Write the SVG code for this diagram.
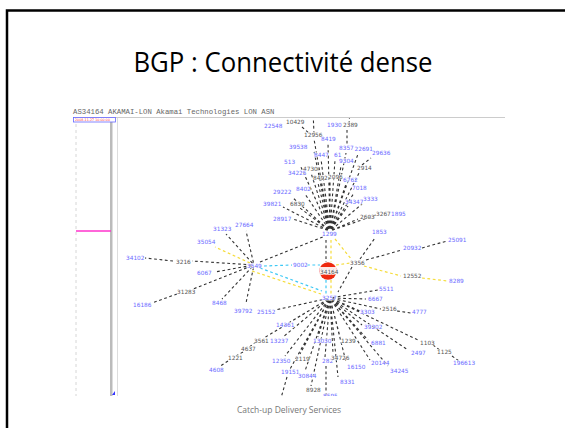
<svg xmlns="http://www.w3.org/2000/svg" width="565" height="428" viewBox="0 0 565 428">
<style>
.e{stroke:#333;stroke-width:1.1;stroke-dasharray:2.8 2.6;fill:none}
.f{stroke-dashoffset:3}
.y{stroke:#f5dc3a;stroke-width:1.2;stroke-dasharray:2.8 2.6;fill:none}
.c{stroke:#3cc8f5;stroke-width:1.2;stroke-dasharray:2.8 2.6;fill:none}
text.b,text.g{font-family:"DejaVu Sans",sans-serif;font-size:5.8px;stroke:#fff;stroke-width:1.2px;stroke-opacity:0.85;paint-order:stroke}
text.b{fill:#6a6aff}
text.g{fill:#555}
</style>
<defs>
<clipPath id="gc"><rect x="118" y="118" width="447" height="278"/></clipPath>
</defs>
<rect width="565" height="428" fill="#fff"/>
<path d="M7 430V10.5H570" fill="none" stroke="#000" stroke-width="2.5"/>
<text x="283" y="72" text-anchor="middle" font-family="'Open Sans',sans-serif" font-size="27" fill="#000" textLength="299" lengthAdjust="spacingAndGlyphs">BGP : Connectivité dense</text>
<text x="289" y="413" text-anchor="middle" font-family="'Open Sans',sans-serif" font-size="8.5" fill="#777">Catch-up Delivery Services</text>

<g id="screenshot-frame">
<text x="73" y="114" font-family="'Liberation Mono',monospace" font-size="7.3" fill="#666">AS34164 AKAMAI-LON Akamai Technologies LON ASN</text>
<line x1="73" y1="117.5" x2="505" y2="117.5" stroke="#ccc" stroke-width="1"/>
<line x1="76" y1="124" x2="76" y2="396" stroke="#ccc" stroke-width="0.8" stroke-dasharray="3 3"/>
<rect x="110" y="121" width="2.5" height="275" fill="#bbb"/>
<line x1="117.5" y1="118" x2="117.5" y2="396" stroke="#ddd" stroke-width="1"/>
<rect x="73.5" y="117.5" width="42" height="4.5" fill="#fff" stroke="#66f" stroke-width="0.8"/>
<text x="75" y="121.2" font-family="'DejaVu Sans',sans-serif" font-size="3.3" fill="#f44">2008-11-27 10:00:00</text>
<line x1="76" y1="231" x2="111" y2="231" stroke="#ff33cc" stroke-width="1.3"/>
<path d="M112 395L115 391V395Z" fill="#33f"/>
</g>

<g id="connectors" clip-path="url(#gc)">
<!-- hub 1299 fan -->
<path class="e f" d="M330 231L293 219M330 231L300 208M330 231L283 207M330 231L292 197M330 231L305 194M330 231L306 178M330 231L300 165M330 231L311 173M330 231L318 183M330 231L314 151M330 231L321 159M330 231L330 182M330 231L335 160M330 231L328 143M330 231L314 139M330 231L341 166M330 231L346 153M330 231L358 154M330 231L346 184M330 231L359 173M330 231L354 193M330 231L348 206M330 231L362 204M330 231L358 219M330 231L376 215"/>
<path class="e" d="M302 127L310 134M314 134L313 110M349 124L350 110M347 130L347 146M362 165L371 158"/>
<!-- hub 3257 fan -->
<path class="e f" d="M330 298L378 290M330 298L366 299M330 298L381 309M330 298L360 311M330 298L275 310M330 298L290 322M330 298L264 338M330 298L283 337M330 298L285 356M330 298L290 369M330 298L300 354M330 298L305 371M330 298L318 337M330 298L325 357M330 298L311 386M330 298L333 353M330 298L340 337M330 298L346 362M330 298L338 377M330 298L362 325M330 298L368 340M330 298L370 360M330 298L388 366M330 298L408 350M330 298L418 340"/>
<path class="e" d="M397 311L411 313M256 342L248 348M243 352L236 356M228 361L219 367M433 345L441 351M452 356L459 361M287 377L281 398M326 366L326 398"/>
<!-- hub 3549 fan -->
<path class="e f" d="M254 265L192 261M254 265L215 272M254 265L193 289M254 265L226 234M254 265L246 231M254 265L222 299M254 265L246 303"/>
<path class="e" d="M173 261L145 258M177 294L152 303M260 262L325 236"/>
<path class="y" d="M250 263L215 247M252 271L321 294"/>
<path class="c" d="M264 266L292 265M307 265L320 265M260 268L322 291"/>
<!-- center -->
<path class="e" d="M326 240V262"/>
<path class="y" d="M331 240V262M331 280V294M335 239L352 260M336 265L350 263M364 266L401 276M422 278L448 281"/>
<path class="c" d="M326 280V294"/>
<path class="e" d="M360 259L375 238M366 260L402 250M422 248L447 241M352 267L338 292"/>
</g>

<g id="nodes" clip-path="url(#gc)">
<g id="n34164"><circle cx="328" cy="271" r="8.7" fill="#ee2a10"/><rect x="319.5" y="267" width="17" height="7.5" fill="#fff" opacity="0.9"/><text class="g" x="320" y="274">34164</text></g>
<g id="n22548"><text class="b" x="264" y="128">22548</text></g>
<g id="n10429"><text class="g" x="286" y="124">10429</text></g>
<g id="n1930"><text class="b" x="327" y="127">1930</text></g>
<g id="n2389"><text class="g" x="343" y="127">2389</text></g>
<g id="n12956"><text class="g" x="304" y="137">12956</text></g>
<g id="n8419"><text class="b" x="321" y="141">8419</text></g>
<g id="n39538"><text class="b" x="289" y="149">39538</text></g>
<g id="n8357"><text class="b" x="339" y="150">8357</text></g>
<g id="n22691"><text class="b" x="354.5" y="151">22691</text></g>
<g id="n29636"><text class="b" x="372" y="155">29636</text></g>
<g id="n8447"><text class="b" x="314" y="157">8447</text></g>
<g id="n61"><text class="b" x="334" y="157">61</text></g>
<g id="n9304"><text class="b" x="339" y="163">9304</text></g>
<g id="n513"><text class="b" x="284" y="164">513</text></g>
<g id="n4730"><text class="g" x="303" y="171">4730</text></g>
<g id="n2914"><text class="g" x="357" y="170">2914</text></g>
<g id="n34225"><text class="b" x="288" y="175">34225</text></g>
<g id="n8492"><text class="g" x="313" y="180">8492</text></g>
<g id="n2096"><text class="g" x="328" y="179">2096</text></g>
<g id="n6762"><text class="b" x="343" y="182">6762</text></g>
<g id="n7018"><text class="b" x="352" y="190">7018</text></g>
<g id="n8402"><text class="b" x="296" y="191">8402</text></g>
<g id="n29222"><text class="b" x="273" y="194">29222</text></g>
<g id="n3333"><text class="b" x="363" y="201">3333</text></g>
<g id="n34347"><text class="b" x="345" y="204">34347</text></g>
<g id="n39821"><text class="b" x="263" y="206">39821</text></g>
<g id="n6830"><text class="g" x="290" y="206">6830</text></g>
<g id="n28917"><text class="b" x="273" y="221">28917</text></g>
<g id="n2603"><text class="g" x="360" y="219">2603</text></g>
<g id="n3267"><text class="g" x="376" y="216">3267</text></g>
<g id="n1895"><text class="b" x="391" y="216">1895</text></g>
<g id="n1299"><text class="b" x="322" y="236">1299</text></g>
<g id="n1853"><text class="b" x="372" y="234">1853</text></g>
<g id="n20932"><text class="b" x="403" y="250">20932</text></g>
<g id="n25091"><text class="b" x="448" y="242">25091</text></g>
<g id="n3356"><text class="g" x="350" y="265">3356</text></g>
<g id="n9002"><text class="b" x="293" y="267">9002</text></g>
<g id="n3549"><text class="b" x="247" y="268">3549</text></g>
<g id="n12552"><text class="g" x="403" y="278">12552</text></g>
<g id="n8289"><text class="b" x="449" y="283">8289</text></g>
<g id="n5511"><text class="b" x="379" y="291">5511</text></g>
<g id="n3257"><text class="b" x="322" y="300">3257</text></g>
<g id="n6667"><text class="b" x="368" y="301">6667</text></g>
<g id="n2516"><text class="g" x="382" y="311">2516</text></g>
<g id="n4777"><text class="b" x="412" y="314">4777</text></g>
<g id="n3303"><text class="b" x="360" y="314">3303</text></g>
<g id="n25152"><text class="b" x="257" y="314">25152</text></g>
<g id="n39792"><text class="b" x="234" y="313">39792</text></g>
<g id="n8468"><text class="b" x="212" y="305">8468</text></g>
<g id="n16186"><text class="b" x="133" y="307">16186</text></g>
<g id="n31283"><text class="g" x="177" y="294">31283</text></g>
<g id="n34102"><text class="b" x="126" y="260">34102</text></g>
<g id="n3216"><text class="g" x="176" y="264">3216</text></g>
<g id="n6067"><text class="b" x="197" y="275">6067</text></g>
<g id="n35054"><text class="b" x="197" y="244">35054</text></g>
<g id="n31323"><text class="b" x="213" y="231">31323</text></g>
<g id="n27664"><text class="b" x="235" y="227">27664</text></g>
<g id="n14361"><text class="b" x="276" y="327">14361</text></g>
<g id="n3561"><text class="g" x="254" y="343">3561</text></g>
<g id="n13237"><text class="b" x="270" y="343">13237</text></g>
<g id="n4637"><text class="g" x="241" y="351">4637</text></g>
<g id="n1221"><text class="g" x="228" y="360">1221</text></g>
<g id="n4608"><text class="b" x="209" y="372">4608</text></g>
<g id="n13030"><text class="b" x="313" y="343">13030</text></g>
<g id="n1239"><text class="g" x="341" y="343">1239</text></g>
<g id="n39202"><text class="b" x="364" y="329">39202</text></g>
<g id="n6881"><text class="b" x="371" y="345">6881</text></g>
<g id="n1103"><text class="g" x="420" y="345">1103</text></g>
<g id="n2497"><text class="b" x="411" y="355">2497</text></g>
<g id="n1125"><text class="g" x="437" y="354">1125</text></g>
<g id="n196613"><text class="b" x="453" y="365">196613</text></g>
<g id="n34245"><text class="b" x="390" y="373">34245</text></g>
<g id="n20144"><text class="b" x="371" y="365">20144</text></g>
<g id="n16150"><text class="b" x="347" y="369">16150</text></g>
<g id="n12350"><text class="b" x="272" y="363">12350</text></g>
<g id="n2119"><text class="g" x="295" y="361">2119</text></g>
<g id="n282"><text class="b" x="322" y="363">282</text></g>
<g id="n34726"><text class="g" x="331" y="360">34726</text></g>
<g id="n19151"><text class="b" x="281" y="374">19151</text></g>
<g id="n30844"><text class="b" x="298" y="378">30844</text></g>
<g id="n8331"><text class="b" x="340" y="384">8331</text></g>
<g id="n8928"><text class="g" x="306" y="392">8928</text></g>
<g id="n8595"><text class="b" x="323" y="398">8595</text></g>
</g>
</svg>
